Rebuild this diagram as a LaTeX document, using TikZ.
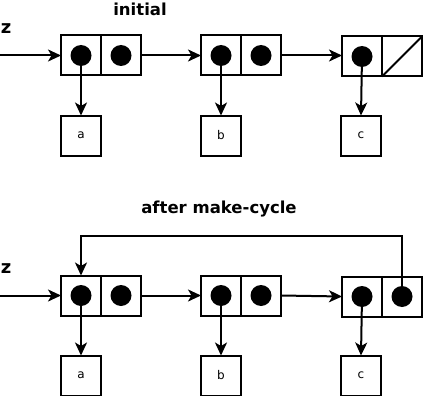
\documentclass[tikz,border=0pt]{standalone}
\usepackage{fontspec}
\setmainfont{DejaVu Sans}
\usetikzlibrary{arrows.meta}
\begin{document}
\begin{tikzpicture}[x=1pt,y=-1pt,
  cell/.style={draw,line width=2pt,minimum size=40pt,inner sep=0pt,outer sep=0pt},
  dot/.style={circle,fill=black,minimum size=21pt,inner sep=0pt},
  ptr/.style={line width=2pt,-{Stealth[length=13pt,width=12pt,inset=3.5pt]}},
  heading/.style={font=\bfseries\fontsize{16.5}{19}\selectfont},
  varname/.style={font=\bfseries\fontsize{18}{20}\selectfont},
  val/.style={font=\fontsize{12}{14}\selectfont}]
\useasboundingbox (0,0) rectangle (423,396);

% ---------- initial list ----------
\node[heading] (t1) at (140,9) {initial};
\node[varname] (z1) at (6,29) {z};
\coordinate (z1s) at (0,55.5);

\node[cell] (p1l) at (81,55.5) {};
\node[cell] (p1r) at (121,55.5) {};
\node[cell] (p2l) at (221,55.5) {};
\node[cell] (p2r) at (261,55.5) {};
\node[cell] (p3l) at (362,56.5) {};
\node[cell] (p3r) at (402,56.5) {};
\draw[line width=2pt] (p3r.south west) -- (p3r.north east);

\node[dot] (d1a) at (p1l) {};
\node[dot] (d1b) at (p1r) {};
\node[dot] (d2a) at (p2l) {};
\node[dot] (d2b) at (p2r) {};
\node[dot] (d3a) at (p3l) {};

\node[cell,val] (va1) at (81,135.5) {a};
\node[cell,val] (vb1) at (221,135.5) {b};
\node[cell,val] (vc1) at (361,135.5) {c};

\draw[ptr] (z1s) -- (p1l.west);
\draw[ptr] (p1r.east) -- (p2l.west);
\draw[ptr] (p2r.east) -- (p2r.east -| p3l.west);
\draw[ptr] (d1a.center) -- (va1.north);
\draw[ptr] (d2a.center) -- (vb1.north);
\draw[ptr] (d3a.center) -- (vc1.north);

% ---------- after make-cycle ----------
\node[heading] (t2) at (219,209) {after make-cycle};
\node[varname] (z2) at (6,269) {z};
\coordinate (z2s) at (0,295.5);

\node[cell] (q1l) at (81,295.5) {};
\node[cell] (q1r) at (121,295.5) {};
\node[cell] (q2l) at (221,295.5) {};
\node[cell] (q2r) at (261,295.5) {};
\node[cell] (q3l) at (362,296.5) {};
\node[cell] (q3r) at (402,296.5) {};

\node[dot] (e1a) at (q1l) {};
\node[dot] (e1b) at (q1r) {};
\node[dot] (e2a) at (q2l) {};
\node[dot] (e2b) at (q2r) {};
\node[dot] (e3a) at (q3l) {};
\node[dot] (e3b) at (q3r) {};

\node[cell,val] (va2) at (81,375.5) {a};
\node[cell,val] (vb2) at (221,375.5) {b};
\node[cell,val] (vc2) at (361,375.5) {c};

\coordinate (loop) at (0,236);

\draw[ptr] (z2s) -- (q1l.west);
\draw[ptr] (q1r.east) -- (q2l.west);
\draw[ptr] (q2r.east) -- (q3l.west);
\draw[ptr] (e1a.center) -- (va2.north);
\draw[ptr] (e2a.center) -- (vb2.north);
\draw[ptr] (e3a.center) -- (vc2.north);
\draw[ptr] (e3b.center) -- (e3b.center |- loop) -| (q1l.north);
\end{tikzpicture}
\end{document}
